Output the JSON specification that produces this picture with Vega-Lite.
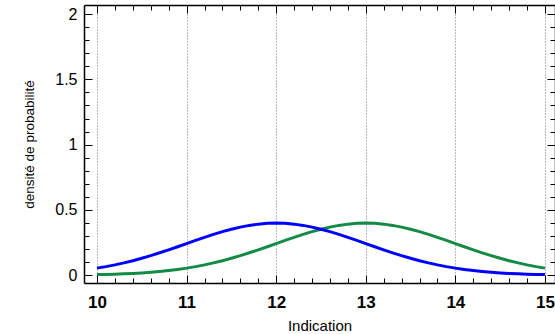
{
  "$schema": "https://vega.github.io/schema/vega-lite/v6.json",
  "autosize": "none",
  "width": 471,
  "height": 278,
  "padding": {"left": 84, "top": 5, "right": 0, "bottom": 51},
  "background": "white",
  "config": {
    "view": {"stroke": null},
    "font": "Liberation Sans",
    "axis": {"labelFont": "Liberation Sans", "titleFont": "Liberation Sans", "domainColor": "black", "tickColor": "black", "labelColor": "black", "titleColor": "black", "grid": false}
  },
  "data": {
    "values": [
      {"x": 10.0, "blue": 0.05399, "green": 0.00443},
      {"x": 10.1, "blue": 0.06562, "green": 0.00595},
      {"x": 10.2, "blue": 0.07895, "green": 0.00792},
      {"x": 10.3, "blue": 0.09405, "green": 0.01042},
      {"x": 10.4, "blue": 0.11092, "green": 0.01358},
      {"x": 10.5, "blue": 0.12952, "green": 0.01753},
      {"x": 10.6, "blue": 0.14973, "green": 0.02239},
      {"x": 10.7, "blue": 0.17137, "green": 0.02833},
      {"x": 10.8, "blue": 0.19419, "green": 0.03547},
      {"x": 10.9, "blue": 0.21785, "green": 0.04398},
      {"x": 11.0, "blue": 0.24197, "green": 0.05399},
      {"x": 11.1, "blue": 0.26609, "green": 0.06562},
      {"x": 11.2, "blue": 0.28969, "green": 0.07895},
      {"x": 11.3, "blue": 0.31225, "green": 0.09405},
      {"x": 11.4, "blue": 0.33322, "green": 0.11092},
      {"x": 11.5, "blue": 0.35207, "green": 0.12952},
      {"x": 11.6, "blue": 0.36827, "green": 0.14973},
      {"x": 11.7, "blue": 0.38139, "green": 0.17137},
      {"x": 11.8, "blue": 0.39104, "green": 0.19419},
      {"x": 11.9, "blue": 0.39695, "green": 0.21785},
      {"x": 12.0, "blue": 0.39894, "green": 0.24197},
      {"x": 12.1, "blue": 0.39695, "green": 0.26609},
      {"x": 12.2, "blue": 0.39104, "green": 0.28969},
      {"x": 12.3, "blue": 0.38139, "green": 0.31225},
      {"x": 12.4, "blue": 0.36827, "green": 0.33322},
      {"x": 12.5, "blue": 0.35207, "green": 0.35207},
      {"x": 12.6, "blue": 0.33322, "green": 0.36827},
      {"x": 12.7, "blue": 0.31225, "green": 0.38139},
      {"x": 12.8, "blue": 0.28969, "green": 0.39104},
      {"x": 12.9, "blue": 0.26609, "green": 0.39695},
      {"x": 13.0, "blue": 0.24197, "green": 0.39894},
      {"x": 13.1, "blue": 0.21785, "green": 0.39695},
      {"x": 13.2, "blue": 0.19419, "green": 0.39104},
      {"x": 13.3, "blue": 0.17137, "green": 0.38139},
      {"x": 13.4, "blue": 0.14973, "green": 0.36827},
      {"x": 13.5, "blue": 0.12952, "green": 0.35207},
      {"x": 13.6, "blue": 0.11092, "green": 0.33322},
      {"x": 13.7, "blue": 0.09405, "green": 0.31225},
      {"x": 13.8, "blue": 0.07895, "green": 0.28969},
      {"x": 13.9, "blue": 0.06562, "green": 0.26609},
      {"x": 14.0, "blue": 0.05399, "green": 0.24197},
      {"x": 14.1, "blue": 0.04398, "green": 0.21785},
      {"x": 14.2, "blue": 0.03547, "green": 0.19419},
      {"x": 14.3, "blue": 0.02833, "green": 0.17137},
      {"x": 14.4, "blue": 0.02239, "green": 0.14973},
      {"x": 14.5, "blue": 0.01753, "green": 0.12952},
      {"x": 14.6, "blue": 0.01358, "green": 0.11092},
      {"x": 14.7, "blue": 0.01042, "green": 0.09405},
      {"x": 14.8, "blue": 0.00792, "green": 0.07895},
      {"x": 14.9, "blue": 0.00595, "green": 0.06562},
      {"x": 15.0, "blue": 0.00443, "green": 0.05399}
    ]
  },
  "resolve": {"axis": {"x": "independent", "y": "independent"}},
  "layer": [
    {
      "mark": {"type": "line", "strokeOpacity": 0},
      "encoding": {
        "x": {"field": "x", "type": "quantitative", "scale": {"domain": [9.855, 15.112], "nice": false, "zero": false},
          "axis": {"orient": "bottom", "values": [10, 11, 12, 13, 14, 15], "format": "~g", "ticks": false, "domain": true, "domainWidth": 1.5, "labelFontSize": 17, "labelFontWeight": "bold", "labelPadding": 11, "title": "Indication", "titleFontSize": 15, "titleFontWeight": "normal", "titlePadding": 8, "grid": true, "gridColor": "#777777", "gridDash": [1, 2], "gridWidth": 1}},
        "y": {"field": "blue", "type": "quantitative", "scale": {"domain": [-0.06, 2.07], "nice": false, "zero": false},
          "axis": {"orient": "left", "values": [0, 0.5, 1, 1.5, 2], "format": "~g", "ticks": false, "domain": true, "domainWidth": 1.5, "labelFontSize": 16, "labelPadding": 7, "title": "densité de probabilité", "titleFontSize": 13.5, "titleFontWeight": "normal", "titlePadding": 18}}
      }
    },
    {
      "mark": {"type": "line", "strokeOpacity": 0},
      "encoding": {
        "x": {"field": "x", "type": "quantitative", "axis": {"orient": "bottom", "values": [10, 11, 12, 13, 14, 15], "labels": false, "domain": false, "tickSize": -8, "tickWidth": 1, "title": null}},
        "y": {"field": "blue", "type": "quantitative", "axis": {"orient": "left", "values": [0, 0.5, 1, 1.5, 2], "labels": false, "domain": false, "tickSize": -8, "tickWidth": 1, "title": null}}
      }
    },
    {
      "mark": {"type": "line", "strokeOpacity": 0},
      "encoding": {
        "x": {"field": "x", "type": "quantitative", "axis": {"orient": "bottom", "values": [10.2, 10.4, 10.6, 10.8, 11.2, 11.4, 11.6, 11.8, 12.2, 12.4, 12.6, 12.8, 13.2, 13.4, 13.6, 13.8, 14.2, 14.4, 14.6, 14.8], "labels": false, "domain": false, "tickSize": -5, "tickWidth": 1, "title": null}},
        "y": {"field": "blue", "type": "quantitative", "axis": {"orient": "left", "values": [0.1, 0.2, 0.3, 0.4, 0.6, 0.7, 0.8, 0.9, 1.1, 1.2, 1.3, 1.4, 1.6, 1.7, 1.8, 1.9], "labels": false, "domain": false, "tickSize": -5, "tickWidth": 1, "title": null}}
      }
    },
    {
      "mark": {"type": "line", "strokeOpacity": 0},
      "encoding": {
        "x": {"field": "x", "type": "quantitative", "axis": {"orient": "top", "values": [10, 11, 12, 13, 14, 15], "labels": false, "domain": true, "domainWidth": 1.5, "tickSize": -8, "tickWidth": 1, "title": null}},
        "y": {"field": "blue", "type": "quantitative", "axis": {"orient": "right", "values": [0, 0.5, 1, 1.5, 2], "labels": false, "domain": true, "domainWidth": 1.5, "tickSize": -8, "tickWidth": 1, "title": null}}
      }
    },
    {
      "mark": {"type": "line", "color": "#138a45", "strokeWidth": 3},
      "encoding": {
        "x": {"field": "x", "type": "quantitative", "axis": {"orient": "top", "values": [10.2, 10.4, 10.6, 10.8, 11.2, 11.4, 11.6, 11.8, 12.2, 12.4, 12.6, 12.8, 13.2, 13.4, 13.6, 13.8, 14.2, 14.4, 14.6, 14.8], "labels": false, "domain": false, "tickSize": -5, "tickWidth": 1, "title": null}},
        "y": {"field": "green", "type": "quantitative", "axis": {"orient": "right", "values": [0.1, 0.2, 0.3, 0.4, 0.6, 0.7, 0.8, 0.9, 1.1, 1.2, 1.3, 1.4, 1.6, 1.7, 1.8, 1.9], "labels": false, "domain": false, "tickSize": -5, "tickWidth": 1, "title": null}}
      }
    },
    {
      "mark": {"type": "line", "color": "#0000ff", "strokeWidth": 3},
      "encoding": {
        "x": {"field": "x", "type": "quantitative", "axis": null},
        "y": {"field": "blue", "type": "quantitative", "axis": null}
      }
    }
  ]
}
